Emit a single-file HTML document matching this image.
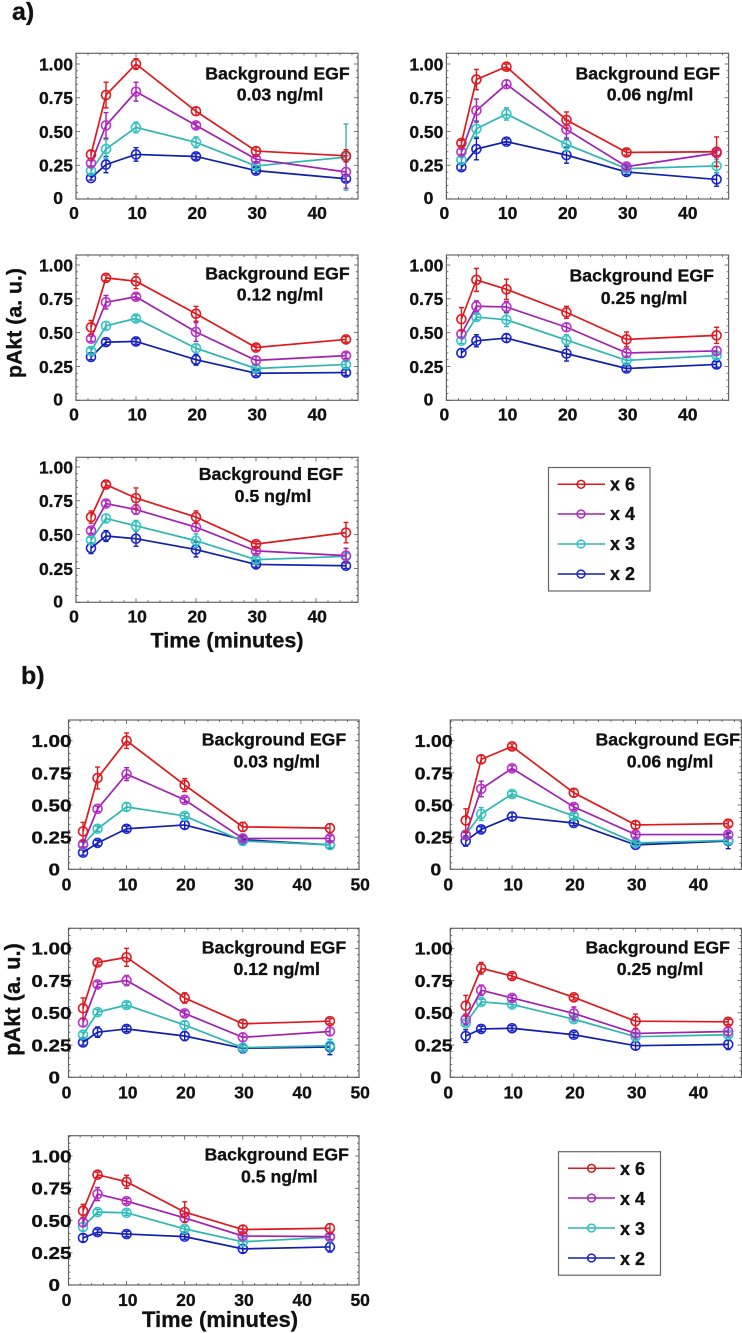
<!DOCTYPE html>
<html lang="en">
<head>
<meta charset="utf-8">
<title>pAkt time courses</title>
<style>
html,body{margin:0;padding:0;background:#fff;}
svg{display:block;}
text{font-family:"Liberation Sans",sans-serif;font-weight:bold;fill:#111;stroke:#111;stroke-width:0.3px;}
.pt{font-size:17.7px;text-anchor:middle;}
.lg{font-size:18px;}
</style>
</head>
<body>
<svg id="figure" xmlns="http://www.w3.org/2000/svg" width="742" height="1333" viewBox="0 0 742 1333">
<text x="12" y="20" style="font-size:25px">a)</text>
<text x="21" y="684" style="font-size:25px">b)</text>

<g id="panel-a1"></g>
<g id="panel-a2"></g>
<g id="panel-a3"></g>
<g id="panel-a4"></g>
<g id="panel-a5"></g>
<g id="panel-b1"></g>
<g id="panel-b2"></g>
<g id="panel-b3"></g>
<g id="panel-b4"></g>
<g id="panel-b5"></g>

<g>
<text class="pt" x="277.5" y="79.3">Background EGF</text>
<text class="pt" x="280" y="100.5">0.03 ng/ml</text>
<text class="pt" x="647.7" y="79.3">Background EGF</text>
<text class="pt" x="650" y="100.5">0.06 ng/ml</text>
<text class="pt" x="277.5" y="279.3">Background EGF</text>
<text class="pt" x="280" y="300.7">0.12 ng/ml</text>
<text class="pt" x="641.7" y="281.7">Background EGF</text>
<text class="pt" x="644" y="304">0.25 ng/ml</text>
<text class="pt" x="271" y="480">Background EGF</text>
<text class="pt" x="273" y="502">0.5 ng/ml</text>
</g>
<g>
<text class="pt" x="274" y="745.7">Background EGF</text>
<text class="pt" x="276.7" y="767.7">0.03 ng/ml</text>
<text class="pt" x="667.7" y="745.7">Background EGF</text>
<text class="pt" x="670" y="767.7">0.06 ng/ml</text>
<text class="pt" x="274" y="953.3">Background EGF</text>
<text class="pt" x="276.7" y="975">0.12 ng/ml</text>
<text class="pt" x="657.7" y="953.3">Background EGF</text>
<text class="pt" x="660" y="975">0.25 ng/ml</text>
<text class="pt" x="276.7" y="1160.7">Background EGF</text>
<text class="pt" x="279.3" y="1182.3">0.5 ng/ml</text>
</g>

<text transform="translate(21.5,323) rotate(-90)" text-anchor="middle" style="font-size:21.3px">pAkt (a. u.)</text>
<text transform="translate(20,999.5) rotate(-90)" text-anchor="middle" style="font-size:21.8px">pAkt (a. u.)</text>
<text x="227" y="647.3" text-anchor="middle" style="font-size:21.6px">Time (minutes)</text>
<text x="220" y="1327" text-anchor="middle" style="font-size:22px">Time (minutes)</text>

<g>
<rect x="548.5" y="467.5" width="101.5" height="123.5" fill="#fff" stroke="#666" stroke-width="1.2"/>
<g><line x1="557.7" x2="605" y1="484.3" y2="484.3" stroke="#e0181c" stroke-width="1.5"/><circle cx="581" cy="484.3" r="3.9" fill="none" stroke="#d01a20" stroke-width="1.5"/><text class="lg" x="610" y="490.5">x 6</text></g>
<g><line x1="557.7" x2="605" y1="514" y2="514" stroke="#a020b0" stroke-width="1.5"/><circle cx="581" cy="514" r="3.9" fill="none" stroke="#a828c0" stroke-width="1.5"/><text class="lg" x="610" y="520.2">x 4</text></g>
<g><line x1="557.7" x2="605" y1="544" y2="544" stroke="#2fb5b0" stroke-width="1.5"/><circle cx="581" cy="544" r="3.9" fill="none" stroke="#30c0c4" stroke-width="1.5"/><text class="lg" x="610" y="550.2">x 3</text></g>
<g><line x1="557.7" x2="605" y1="574" y2="574" stroke="#1020a0" stroke-width="1.5"/><circle cx="581" cy="574" r="3.9" fill="none" stroke="#1a20d0" stroke-width="1.5"/><text class="lg" x="610" y="580.2">x 2</text></g>
</g>
<g>
<rect x="558.5" y="1151.7" width="102" height="123.5" fill="#fff" stroke="#666" stroke-width="1.2"/>
<g><line x1="568" x2="615" y1="1168.3" y2="1168.3" stroke="#e0181c" stroke-width="1.5"/><circle cx="591.5" cy="1168.3" r="3.9" fill="none" stroke="#d01a20" stroke-width="1.5"/><text class="lg" x="620" y="1175">x 6</text></g>
<g><line x1="568" x2="615" y1="1198" y2="1198" stroke="#a020b0" stroke-width="1.5"/><circle cx="591.5" cy="1198" r="3.9" fill="none" stroke="#a828c0" stroke-width="1.5"/><text class="lg" x="620" y="1205">x 4</text></g>
<g><line x1="568" x2="615" y1="1228" y2="1228" stroke="#2fb5b0" stroke-width="1.5"/><circle cx="591.5" cy="1228" r="3.9" fill="none" stroke="#30c0c4" stroke-width="1.5"/><text class="lg" x="620" y="1235">x 3</text></g>
<g><line x1="568" x2="615" y1="1258" y2="1258" stroke="#1020a0" stroke-width="1.5"/><circle cx="591.5" cy="1258" r="3.9" fill="none" stroke="#1a20d0" stroke-width="1.5"/><text class="lg" x="620" y="1265">x 2</text></g>
</g>
</svg>

<script>
// ---------- shared categories and ticks ----------
const times = [2.5, 5, 10, 20, 30, 45];
const seriesNames = ['x2', 'x3', 'x4', 'x6'];
const yTickValues = [0, 0.25, 0.5, 0.75, 1];
const yTickLabels = ['0', '0.25', '0.50', '0.75', '1.00'];
const xTicksTo40 = [0, 10, 20, 30, 40];
const xTicksTo50 = [0, 10, 20, 30, 40, 50];

// ---------- section a values (x2, x3, x4, x6) and errors ----------
const a1x2 = [.155,.255,.33,.315,.21,.15];   const a1x2e = [.015,.06,.05,.02,.02,.02];
const a1x3 = [.21,.37,.53,.42,.245,.31];     const a1x3e = [.02,.07,.04,.04,.02,.245];
const a1x4 = [.265,.545,.795,.545,.295,.20]; const a1x4e = [.02,.095,.07,.02,.02,.12];
const a1x6 = [.33,.77,1.0,.65,.355,.32];     const a1x6e = [.03,.095,.04,.03,.03,.045];

const a2x2 = [.235,.37,.425,.325,.2,.145];   const a2x2e = [.02,.08,.02,.06,.02,.05];
const a2x3 = [.29,.52,.63,.405,.225,.245];   const a2x3e = [.02,.06,.045,.05,.02,.05];
const a2x4 = [.35,.655,.85,.515,.24,.34];    const a2x4e = [.02,.085,.03,.07,.02,.02];
const a2x6 = [.415,.885,.98,.585,.345,.35];  const a2x6e = [.02,.075,.02,.06,.02,.11];

const a3x2 = [.32,.43,.435,.30,.2,.205];     const a3x2e = [.02,.02,.02,.04,.02,.02];
const a3x3 = [.365,.55,.605,.385,.235,.265]; const a3x3e = [.02,.03,.02,.03,.02,.02];
const a3x4 = [.455,.725,.765,.505,.295,.33]; const a3x4e = [.02,.05,.02,.07,.03,.02];
const a3x6 = [.54,.905,.88,.64,.39,.45];     const a3x6e = [.05,.02,.055,.055,.02,.02];

const a4x2 = [.35,.44,.46,.345,.235,.265];   const a4x2e = [.03,.045,.03,.055,.02,.02];
const a4x3 = [.44,.615,.595,.445,.295,.33];  const a4x3e = [.02,.02,.05,.04,.02,.02];
const a4x4 = [.49,.695,.69,.54,.35,.365];    const a4x4e = [.03,.04,.04,.03,.03,.03];
const a4x6 = [.60,.89,.82,.65,.45,.48];      const a4x6e = [.085,.085,.075,.045,.055,.06];

const a5x2 = [.40,.49,.47,.39,.28,.27];      const a5x2e = [.04,.04,.055,.055,.02,.02];
const a5x3 = [.46,.62,.565,.455,.315,.34];   const a5x3e = [.02,.03,.04,.05,.02,.02];
const a5x4 = [.53,.73,.685,.555,.38,.345];   const a5x4e = [.02,.02,.035,.03,.02,.055];
const a5x6 = [.63,.87,.77,.63,.43,.515];     const a5x6e = [.045,.02,.075,.045,.02,.075];

// ---------- section b values and errors ----------
const b1x2 = [.13,.205,.315,.345,.23,.19];   const b1x2e = [.02,.02,.02,.03,.02,.03];
const b1x3 = [.19,.315,.485,.415,.22,.19];   const b1x3e = [.02,.02,.03,.02,.02,.02];
const b1x4 = [.195,.47,.74,.54,.24,.24];     const b1x4e = [.02,.02,.05,.02,.02,.02];
const b1x6 = [.295,.71,1.0,.655,.33,.32];    const b1x6e = [.07,.085,.06,.05,.035,.035];

const b2x2 = [.22,.31,.41,.36,.19,.22];      const b2x2e = [.04,.02,.03,.02,.02,.06];
const b2x3 = [.27,.43,.585,.415,.205,.225];  const b2x3e = [.02,.05,.02,.02,.02,.02];
const b2x4 = [.265,.625,.785,.485,.27,.27];  const b2x4e = [.02,.06,.02,.02,.02,.02];
const b2x6 = [.38,.855,.955,.595,.345,.355]; const b2x6e = [.09,.03,.02,.03,.03,.02];

const b3x2 = [.27,.35,.375,.32,.225,.235];   const b3x2e = [.02,.04,.02,.035,.035,.06];
const b3x3 = [.33,.505,.56,.405,.23,.245];   const b3x3e = [.02,.02,.02,.03,.02,.05];
const b3x4 = [.425,.72,.75,.495,.31,.355];   const b3x4e = [.03,.02,.04,.02,.03,.03];
const b3x6 = [.535,.89,.93,.615,.415,.435];  const b3x6e = [.08,.02,.07,.04,.03,.02];

const b4x2 = [.32,.375,.38,.33,.245,.255];   const b4x2e = [.05,.02,.02,.02,.03,.04];
const b4x3 = [.42,.585,.565,.45,.315,.33];   const b4x3e = [.02,.02,.02,.02,.02,.02];
const b4x4 = [.45,.675,.615,.495,.34,.355];  const b4x4e = [.04,.04,.02,.05,.03,.03];
const b4x6 = [.555,.845,.785,.62,.435,.43];  const b4x6e = [.08,.045,.02,.02,.055,.02];

const b5x2 = [.365,.41,.395,.375,.28,.295];  const b5x2e = [.03,.02,.02,.02,.03,.04];
const b5x3 = [.45,.565,.56,.435,.335,.37];   const b5x3e = [.03,.02,.02,.02,.03,.02];
const b5x4 = [.485,.705,.65,.52,.38,.375];   const b5x4e = [.03,.05,.02,.03,.03,.02];
const b5x6 = [.575,.855,.80,.565,.43,.44];   const b5x6e = [.05,.02,.05,.08,.03,.035];

// ---------- styling and layout (not data) ----------
const lineColors = {x2:'#1020a8', x3:'#2fb5b0', x4:'#a020b0', x6:'#e0181c'};
const markColors = {x2:'#1a20e0', x3:'#30c8c8', x4:'#c030d0', x6:'#e01820'};
const SVGNS = 'http://www.w3.org/2000/svg';

function mk(parent, tag, attrs, txt) {
  const el = document.createElementNS(SVGNS, tag);
  for (const k in attrs) el.setAttribute(k, attrs[k]);
  if (txt !== undefined) el.textContent = txt;
  parent.appendChild(el);
  return el;
}

function drawPanel(p) {
  const root = document.getElementById(p.id);
  const xScale = v => p.x0 + (p.x1 - p.x0) * v / p.xMax;
  const yScale = v => p.yBot - (p.yBot - p.yOne) * v;

  const frame = mk(root, 'rect', {x:p.x0, y:p.yTop, width:p.x1-p.x0, height:p.yBot-p.yTop, fill:'#fff', stroke:'#666', 'stroke-width':1.2});
  
  

  // inward ticks on all four sides
  const ticks = mk(root, 'g', {stroke:'#555', 'stroke-width':0.8});
  
  
  for (let m = 0; m <= p.xMax; m += 2) {
    const len = m % 10 === 0 ? 4 : 2;
    mk(ticks, 'line', {x1:xScale(m), x2:xScale(m), y1:p.yBot, y2:p.yBot-len});
    mk(ticks, 'line', {x1:xScale(m), x2:xScale(m), y1:p.yTop, y2:p.yTop+len});
  }
  for (let n = 0; n * 0.05 <= (p.yBot-p.yTop)/(p.yBot-p.yOne); n++) {
    const len = n % 5 === 0 ? 4 : 2;
    const yy = yScale(n * 0.05);
    mk(ticks, 'line', {x1:p.x0, x2:p.x0+len, y1:yy, y2:yy});
    mk(ticks, 'line', {x1:p.x1, x2:p.x1-len, y1:yy, y2:yy});
  }

  // y tick labels
  yTickValues.forEach((v, i) => {
    const right = v === 0 ? p.x0 + p.yLabZero : p.x0 + p.yLabRight;
    const base = yScale(v) + (v === 0 ? p.yZeroDy : 6.4);
    const t = mk(root, 'text', {transform:'translate(' + right + ',' + base + ') scale(' + p.yStretch + ',1)', 'text-anchor':'end', style:'font-size:17.5px'}, yTickLabels[i]);
    
    
  });

  // x tick labels
  p.xTicks.forEach(v => {
    const t = mk(root, 'text', {x:xScale(v) + (v === 0 ? -2 : 1.2), y:p.yBot + p.xLabDy, 'text-anchor':'middle', style:'font-size:17.5px'}, String(v));
    
    
  });

  // series
  seriesNames.forEach(name => {
    const vals = p.values[name];
    const errs = p.errors[name];
    const g = mk(root, 'g', {});
    
    
    const pts = times.map((t, i) => xScale(t) + ',' + yScale(vals[i])).join(' ');
    const line = mk(g, 'polyline', {points:pts, fill:'none', stroke:lineColors[name], 'stroke-width':1.7});
    
    
    times.forEach((t, i) => {
      const cx = xScale(t);
      const cy = yScale(vals[i]);
      const hi = yScale(vals[i] + errs[i]);
      const lo = yScale(vals[i] - errs[i]);
      const eb = mk(g, 'path', {d:'M' + cx + ' ' + hi + 'V' + lo + 'M' + (cx-2.5) + ' ' + hi + 'H' + (cx+2.5) + 'M' + (cx-2.5) + ' ' + lo + 'H' + (cx+2.5), fill:'none', stroke:lineColors[name], 'stroke-width':1.4});
      
      
      const c = mk(g, 'circle', {cx:cx, cy:cy, r:4.5, fill:'none', stroke:markColors[name], 'stroke-width':1.6});
      
      
    });
  });
}

const layoutA = {xMax:47, xTicks:xTicksTo40, yLabRight:-3, yLabZero:-13, yZeroDy:5, yStretch:1, xLabDy:20};
const layoutB = {xMax:50, xTicks:xTicksTo50, yLabRight:3, yLabZero:-8.5, yZeroDy:6, yStretch:1.18, xLabDy:21};
const layoutB2 = {xMax:47.15, xTicks:xTicksTo40, yLabRight:2.4, yLabZero:-9, yZeroDy:6, yStretch:1.12, xLabDy:21};

drawPanel(Object.assign({}, layoutA, {id:'panel-a1', x0:76, x1:358, yTop:53.3, yBot:199, yOne:64,
  values:{x2:a1x2,x3:a1x3,x4:a1x4,x6:a1x6}, errors:{x2:a1x2e,x3:a1x3e,x4:a1x4e,x6:a1x6e}}));
drawPanel(Object.assign({}, layoutA, {id:'panel-a2', x0:446.4, x1:728.6, yTop:53.3, yBot:199, yOne:64,
  values:{x2:a2x2,x3:a2x3,x4:a2x4,x6:a2x6}, errors:{x2:a2x2e,x3:a2x3e,x4:a2x4e,x6:a2x6e}}));
drawPanel(Object.assign({}, layoutA, {id:'panel-a3', x0:76, x1:358, yTop:255, yBot:400.3, yOne:265,
  values:{x2:a3x2,x3:a3x3,x4:a3x4,x6:a3x6}, errors:{x2:a3x2e,x3:a3x3e,x4:a3x4e,x6:a3x6e}}));
drawPanel(Object.assign({}, layoutA, {id:'panel-a4', x0:446.4, x1:728.6, yTop:255, yBot:400.3, yOne:265,
  values:{x2:a4x2,x3:a4x3,x4:a4x4,x6:a4x6}, errors:{x2:a4x2e,x3:a4x3e,x4:a4x4e,x6:a4x6e}}));
drawPanel(Object.assign({}, layoutA, {id:'panel-a5', x0:76, x1:358, yTop:457.3, yBot:602.3, yOne:467,
  values:{x2:a5x2,x3:a5x3,x4:a5x4,x6:a5x6}, errors:{x2:a5x2e,x3:a5x3e,x4:a5x4e,x6:a5x6e}}));

drawPanel(Object.assign({}, layoutB, {id:'panel-b1', x0:68.5, x1:359, yTop:720, yBot:869.3, yOne:740.7,
  values:{x2:b1x2,x3:b1x3,x4:b1x4,x6:b1x6}, errors:{x2:b1x2e,x3:b1x3e,x4:b1x4e,x6:b1x6e}}));
drawPanel(Object.assign({}, layoutB2, {id:'panel-b2', x0:450.3, x1:741.5, yTop:720, yBot:869.3, yOne:740.7,
  values:{x2:b2x2,x3:b2x3,x4:b2x4,x6:b2x6}, errors:{x2:b2x2e,x3:b2x3e,x4:b2x4e,x6:b2x6e}}));
drawPanel(Object.assign({}, layoutB, {id:'panel-b3', x0:68.5, x1:359, yTop:928.3, yBot:1077.3, yOne:948.3,
  values:{x2:b3x2,x3:b3x3,x4:b3x4,x6:b3x6}, errors:{x2:b3x2e,x3:b3x3e,x4:b3x4e,x6:b3x6e}}));
drawPanel(Object.assign({}, layoutB2, {id:'panel-b4', x0:450.3, x1:741.5, yTop:928.3, yBot:1077.3, yOne:948.3,
  values:{x2:b4x2,x3:b4x3,x4:b4x4,x6:b4x6}, errors:{x2:b4x2e,x3:b4x3e,x4:b4x4e,x6:b4x6e}}));
drawPanel(Object.assign({}, layoutB, {id:'panel-b5', x0:68.5, x1:359, yTop:1135.7, yBot:1285, yOne:1156,
  values:{x2:b5x2,x3:b5x3,x4:b5x4,x6:b5x6}, errors:{x2:b5x2e,x3:b5x3e,x4:b5x4e,x6:b5x6e}}));
</script>
</body>
</html>
